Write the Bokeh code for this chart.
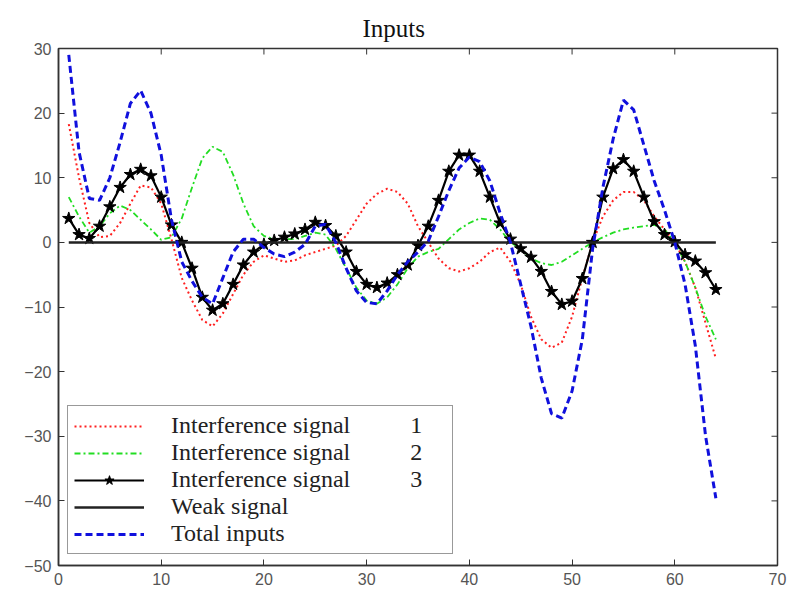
from bokeh.plotting import figure
from bokeh.models import Range1d, Legend, LegendItem, FixedTicker
from bokeh.embed import file_html
from bokeh.resources import INLINE

# ---- data ----
x = list(range(1, 65))

interference1 = [18.3, 10.0, 3.0, 0.8, 1.0, 3.0, 6.0, 8.8, 8.5, 6.0,
                 0.5, -5.5, -9.0, -12.0, -13.0, -11.0, -8.0, -5.0, -3.0, -2.0,
                 -2.5, -3.0, -2.8, -2.0, -1.5, -1.0, -0.5, 1.0, 3.5, 6.0,
                 7.5, 8.3, 7.8, 6.0, 2.5, 0.0, -2.5, -4.0, -4.5, -4.0,
                 -3.0, -1.5, -0.8, -3.0, -6.5, -11.5, -15.0, -16.3, -15.5, -11.5,
                 -5.5, 0.0, 4.0, 6.5, 7.8, 7.8, 6.5, 4.0, 2.0, 0.0,
                 -3.0, -7.0, -12.5, -18.0]

interference2 = [7.0, 4.0, 1.5, 2.5, 4.5, 5.7, 5.0, 3.5, 2.0, 0.4,
                 0.8, 3.7, 8.5, 13.0, 14.8, 14.0, 10.5, 6.0, 2.5, 1.0,
                 0.5, 0.5, 0.5, 1.0, 1.5, 1.2, -1.0, -4.0, -7.0, -9.0,
                 -9.5, -8.5, -6.5, -4.0, -2.2, -1.5, -1.0, 0.5, 2.0, 3.0,
                 3.7, 3.5, 2.0, 0.0, -1.0, -2.5, -3.2, -3.5, -3.0, -2.0,
                 -1.0, 0.0, 0.8, 1.5, 2.0, 2.3, 2.5, 2.7, 2.0, 0.0,
                 -3.0, -7.0, -11.5, -15.0]

interference3 = [3.7, 1.2, 0.6, 2.5, 5.5, 8.5, 10.5, 11.3, 10.3, 7.0,
                 2.7, 0.0, -4.0, -8.5, -10.5, -9.5, -6.5, -3.5, -1.5, -0.3,
                 0.3, 0.8, 1.3, 2.0, 3.1, 2.6, 1.0, -1.5, -4.5, -6.5,
                 -7.0, -6.3, -5.0, -3.5, -0.5, 2.5, 6.5, 11.0, 13.5, 13.5,
                 11.0, 7.0, 3.0, 0.5, -1.0, -2.3, -4.5, -7.6, -9.6, -9.1,
                 -5.6, 0.0, 7.0, 11.4, 12.8, 11.0, 7.0, 3.2, 1.2, 0.1,
                 -1.9, -2.9, -4.7, -7.3]

weak_signal = [0.0] * 64

total_inputs = [29.0, 14.0, 6.8, 6.5, 10.0, 15.5, 21.5, 23.5, 20.0, 13.5,
                3.5, -3.0, -6.0, -8.5, -9.5, -5.5, -1.5, 0.5, 0.5, -0.8,
                -1.8, -2.2, -1.5, -0.3, 2.5, 2.8, 0.0, -4.0, -7.5, -9.3,
                -9.5, -7.5, -5.0, -3.0, -1.5, 0.2, 4.0, 8.0, 11.5, 13.2,
                12.5, 9.5, 4.5, 0.0, -6.5, -13.0, -21.0, -26.5, -27.2, -23.0,
                -15.0, -1.0, 8.5, 16.0, 22.0, 20.5, 15.0, 9.5, 5.0, 0.0,
                -6.5, -16.0, -30.0, -39.6]

x_ticks = [0, 10, 20, 30, 40, 50, 60, 70]
y_ticks = [-50, -40, -30, -20, -10, 0, 10, 20, 30]

NB = "\u00a0"
labels = ["Interference signal" + NB * 10 + "1" + NB * 4,
          "Interference signal" + NB * 10 + "2",
          "Interference signal" + NB * 10 + "3",
          "Weak signal",
          "Total inputs"]

X_MIN, X_MAX, Y_MIN, Y_MAX = 0, 70, -50, 30

# ---- figure ----
p = figure(width=790, height=595, output_backend="svg", toolbar_location=None,
           x_range=Range1d(X_MIN, X_MAX), y_range=Range1d(Y_MIN, Y_MAX),
           min_border_left=58, min_border_right=13, min_border_top=48,
           min_border_bottom=30)
p.background_fill_color = "white"
p.border_fill_color = "white"
p.outline_line_color = "#333333"
p.outline_line_width = 1.5
p.xgrid.visible = False
p.ygrid.visible = False

p.title.text = "Inputs"
p.title.align = "left"
p.title.offset = 304
p.title.text_font = "Liberation Serif"
p.title.text_font_size = "25px"
p.title.text_font_style = "normal"
p.title.text_color = "#111111"
p.title.standoff = 13

for ax in p.xaxis:
    ax.ticker = FixedTicker(ticks=x_ticks)
for ax in p.yaxis:
    ax.ticker = FixedTicker(ticks=y_ticks)

for ax in list(p.xaxis) + list(p.yaxis):
    ax.axis_line_color = "#333333"
    ax.axis_line_width = 1.5
    ax.major_tick_in = 6
    ax.major_tick_out = 0
    ax.minor_tick_line_color = None
    ax.major_tick_line_color = "#333333"
    ax.major_label_text_font = "Liberation Sans"
    ax.major_label_text_font_size = "16px"
    ax.major_label_text_color = "#555555"
    ax.major_label_standoff = 7

# mirror ticks on the top and right edges of the box (inward)
tick_dy = (Y_MAX - Y_MIN) / 517 * 6
tick_dx = (X_MAX - X_MIN) / 719 * 6
p.segment(x0=x_ticks, y0=Y_MAX, x1=x_ticks, y1=Y_MAX - tick_dy,
          line_color="#333333", line_width=1)
p.segment(x0=X_MAX, y0=y_ticks, x1=X_MAX - tick_dx, y1=y_ticks,
          line_color="#333333", line_width=1)

# ---- series ----
r1 = p.line(x, interference1, line_color="#ff2020", line_width=2, line_dash="2 3")
r2 = p.line(x, interference2, line_color="#22dd22", line_width=1.8, line_dash="6 3 2 3")
r3 = p.line(x, interference3, line_color="black", line_width=2.2)
r3m = p.scatter(x, interference3, marker="star", size=13, fill_color="black",
                line_color="black")
r4 = p.line(x, weak_signal, line_color="#222222", line_width=2.5)
r5 = p.line(x, total_inputs, line_color="#1010dd", line_width=3, line_dash="7 4")

legend = Legend(items=[
    LegendItem(label=labels[0], renderers=[r1]),
    LegendItem(label=labels[1], renderers=[r2]),
    LegendItem(label=labels[2], renderers=[r3, r3m]),
    LegendItem(label=labels[3], renderers=[r4]),
    LegendItem(label=labels[4], renderers=[r5]),
], location=(9, 11))
legend.label_text_font = "Liberation Serif"
legend.label_text_font_size = "24px"
legend.label_text_color = "#222222"
legend.label_height = 24
legend.glyph_height = 24
legend.glyph_width = 70
legend.spacing = 0
legend.padding = 6
legend.margin = 0
legend.label_standoff = 27
legend.border_line_color = "#333333"
legend.border_line_width = 1.5
legend.background_fill_alpha = 1.0
p.add_layout(legend, "center")

open("out.html", "w").write(file_html(p, INLINE))
